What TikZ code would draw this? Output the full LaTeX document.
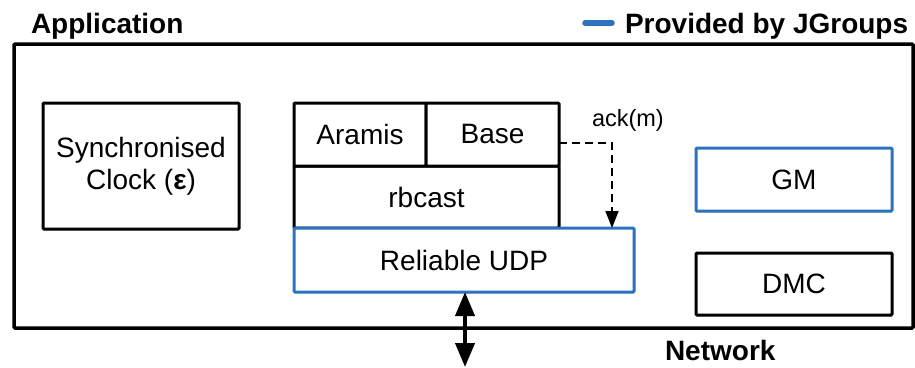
\documentclass[tikz,border=0pt]{standalone}
\usepackage{fontspec}
\setmainfont{Liberation Sans}
\usetikzlibrary{arrows.meta,shadows}
\definecolor{jblue}{RGB}{44,114,190}
\begin{document}
\begin{tikzpicture}[x=1pt,y=-1pt,
  every node/.style={font=\fontsize{28}{32}\selectfont, inner sep=0pt, outer sep=0pt},
  blk/.style={draw=black, line width=3pt, fill=white, rounded corners=1pt,
    drop shadow={opacity=0.18, shadow xshift=1.2pt, shadow yshift=-1.8pt}},
  jblk/.style={blk, draw=jblue},
  lbl/.style={font=\fontsize{28}{32}\selectfont\bfseries, anchor=base west}]
\useasboundingbox (0,0) rectangle (915,367);
% outer application box
\node[draw=black, line width=3.5pt, rounded corners=1pt, minimum width=899pt, minimum height=284pt] (app) at (463.5,186) {};
\node[lbl] (apptxt) at (31,33) {Application};
% legend
\coordinate (lg1) at (585,23);
\coordinate (lg2) at (612,23);
\draw[jblue, line width=5.5pt, line cap=round] (lg1) -- (lg2);
\node[lbl] (legtxt) at (625,33) {Provided by JGroups};
% blocks
\node[blk, minimum width=196pt, minimum height=126pt, align=center] (clock) at (141,166)
  {Synchronised\\Clock (\textbf{ε})};
\node[blk, minimum width=265pt, minimum height=62pt] (rbcast) at (426.5,197) {rbcast};
\node[blk, minimum width=132pt, minimum height=63pt] (aramis) at (360,134.5) {Aramis};
\node[blk, minimum width=133pt, minimum height=63pt] (base) at (492.5,134.5) {Base};
\node[jblk, minimum width=340pt, minimum height=64pt] (udp) at (464,260) {Reliable UDP};
\node[jblk, minimum width=196pt, minimum height=63pt] (gm) at (794,179.5) {GM};
\node[blk, minimum width=196pt, minimum height=62pt] (dmc) at (794,284) {DMC};
% ack arrow
\node[font=\fontsize{23.5}{28}\selectfont, anchor=base west] (ack) at (592,126) {ack(m)};
\coordinate (ackturn) at (612,143);
\draw[line width=1.6pt, dash pattern=on 8pt off 5pt, -{Triangle[width=13pt,length=17pt]}]
  ([yshift=-8.5pt]base.east) -- (ackturn) -- (ackturn |- udp.north);
% network arrow
\coordinate (net) at (465,367);
\draw[line width=4pt, {Triangle[width=19pt,length=24pt]}-{Triangle[width=19pt,length=24pt]}]
  (udp.south -| net) -- (net);
\node[lbl] (nettxt) at (665,360) {Network};
\end{tikzpicture}
\end{document}
